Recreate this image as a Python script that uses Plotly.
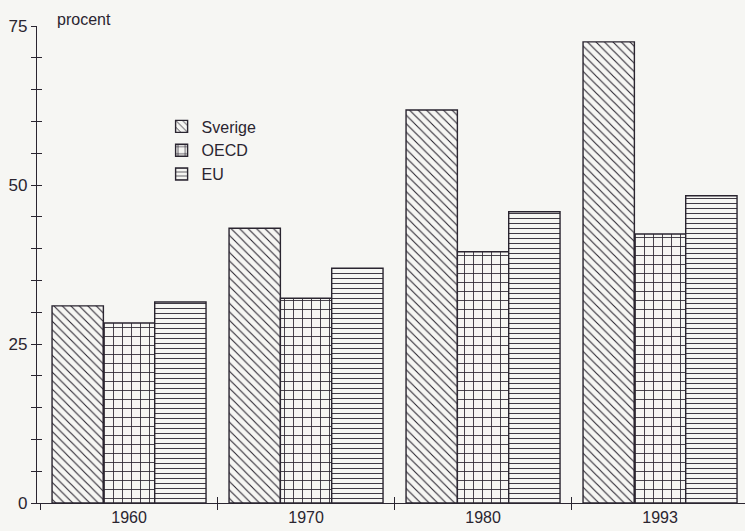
import plotly.graph_objects as go

years = ["1960", "1970", "1980", "1993"]
sverige = [31.0, 43.2, 61.8, 72.5]
oecd = [28.3, 32.2, 39.5, 42.3]
eu = [31.6, 36.9, 45.8, 48.3]

xpos = list(range(len(years)))
bg = "#f6f6f3"
ink = "#2a2530"

fig = go.Figure()
series = [("Sverige", sverige, "\\", 6), ("OECD", oecd, "+", 9), ("EU", eu, "-", 5)]
for name, vals, shape, size in series:
    fig.add_trace(go.Bar(
        x=xpos, y=vals, name=name,
        marker=dict(color=bg, line=dict(color=ink, width=1.4),
                    pattern=dict(shape=shape, size=size, solidity=0.18,
                                 fgcolor=ink, bgcolor=bg, fillmode="replace")),
    ))

fig.update_layout(
    width=745, height=531,
    margin=dict(l=37, r=0, t=26, b=28, autoexpand=False),
    paper_bgcolor=bg, plot_bgcolor=bg,
    barmode="group", bargap=0.13, bargroupgap=0,
    font=dict(family="Liberation Sans, Arial", color=ink, size=15),
    showlegend=True,
    legend=dict(x=0.176, y=0.825, xanchor="left", yanchor="top",
                bgcolor="rgba(0,0,0,0)", font=dict(size=16),
                tracegroupgap=2, itemwidth=30),
    xaxis=dict(range=[-0.52, 3.48], tickvals=xpos, ticktext=years,
               ticks="", showgrid=False, zeroline=False, automargin=False,
               showline=True, linecolor=ink, linewidth=1.4,
               tickfont=dict(size=16),
               minor=dict(tick0=0.5, dtick=1, ticks="outside", ticklen=6,
                          tickcolor=ink, tickwidth=1.3, showgrid=False)),
    xaxis2=dict(overlaying="x", range=[-0.52, 3.48], showticklabels=False,
                tickvals=[0.5, 1.5, 2.5], ticks="inside", ticklen=6,
                tickcolor=ink, tickwidth=1.3, showgrid=False, zeroline=False,
                showline=False),
    yaxis=dict(range=[0, 75], tickvals=[0, 25, 50, 75],
               ticks="outside", ticklen=5, tickcolor=ink, tickwidth=1.3,
               showgrid=False, zeroline=False, automargin=False,
               showline=True, linecolor=ink, linewidth=1.4,
               tickfont=dict(size=17),
               minor=dict(dtick=5, ticks="outside", ticklen=5,
                          tickcolor=ink, tickwidth=1.3, showgrid=False)),
    yaxis2=dict(overlaying="y", range=[0, 75], showticklabels=False,
                tickvals=[0, 25, 50, 75], ticks="inside", ticklen=5,
                tickcolor=ink, tickwidth=1.3, showgrid=False, zeroline=False,
                minor=dict(dtick=5, ticks="inside", ticklen=5,
                           tickcolor=ink, tickwidth=1.3, showgrid=False)),
)
# invisible trace to activate the overlay axes
fig.add_trace(go.Scatter(x=[0], y=[0], xaxis="x2", yaxis="y2", mode="markers",
                         marker=dict(opacity=0), showlegend=False, hoverinfo="skip"))

fig.add_annotation(text="procent", xref="paper", yref="paper",
                   x=0.025, y=1.0, xanchor="left", yanchor="bottom",
                   yshift=-4, showarrow=False, font=dict(size=16, color=ink))

fig.write_html("out.html", config={"displayModeBar": False},
               post_script="document.body.style.margin='0';")
